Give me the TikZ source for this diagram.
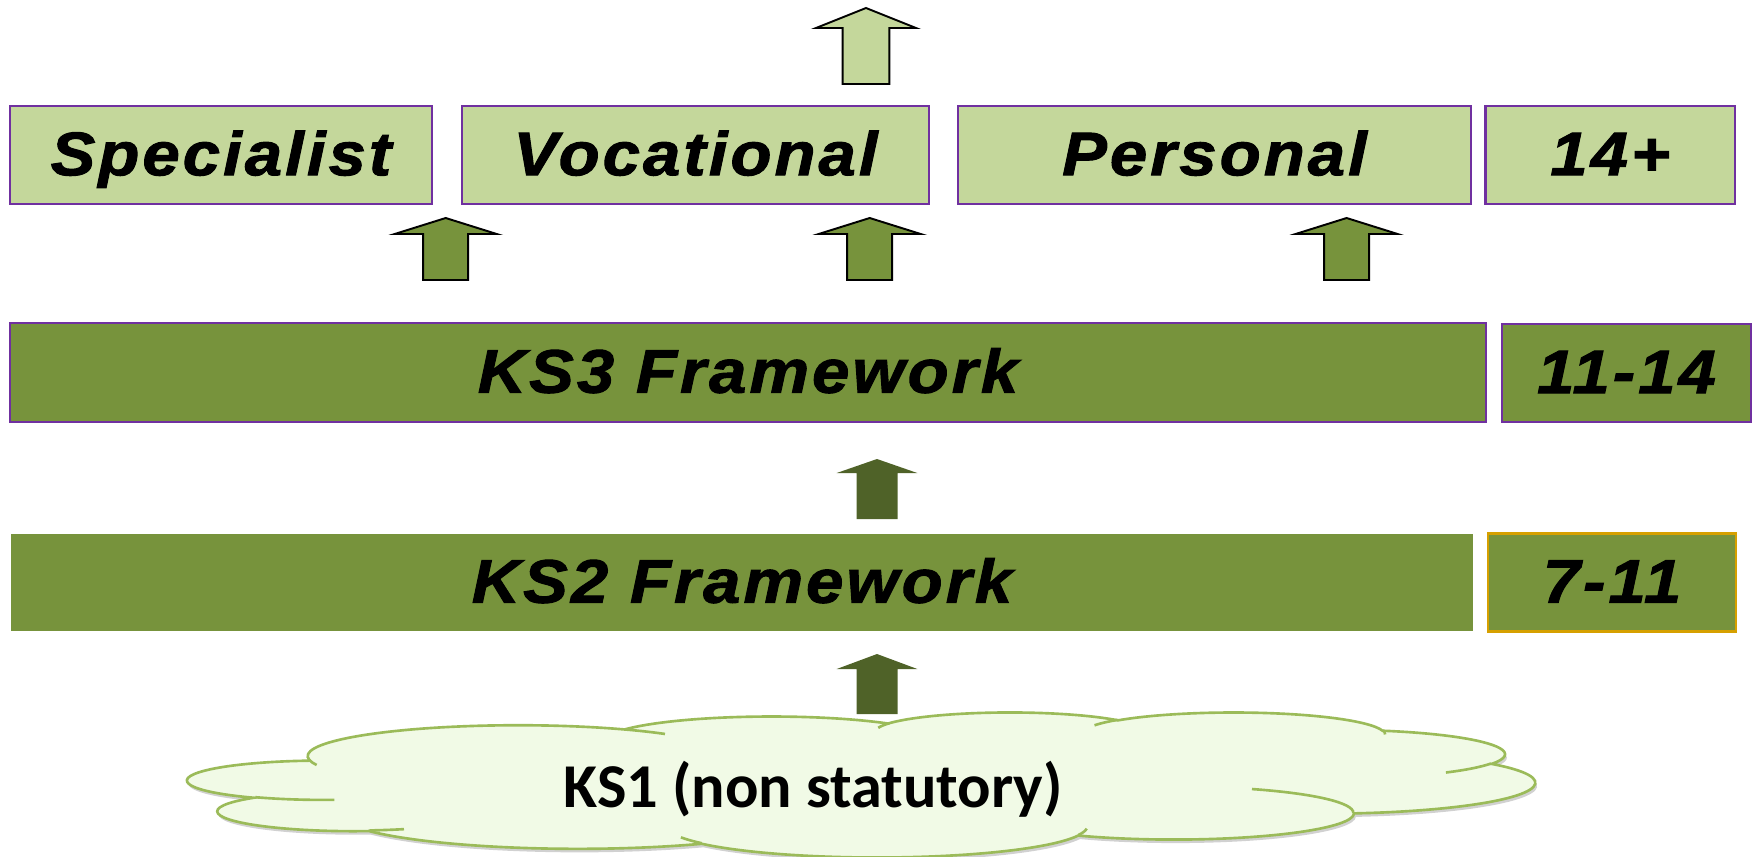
\documentclass[tikz,border=0pt]{standalone}
\usepackage{fontspec}
\newfontfamily\stagefont[LetterSpace=5, FakeStretch=1.09, FakeBold=1.6]{Liberation Sans}
\newfontfamily\cloudfont{Carlito}
\usetikzlibrary{shadows}
\definecolor{palegreen}{RGB}{196,215,155}
\definecolor{olivegreen}{RGB}{119,147,60}
\definecolor{darkolive}{RGB}{79,98,40}
\definecolor{boxpurple}{RGB}{112,48,160}
\definecolor{boxgold}{RGB}{214,160,0}
\definecolor{cloudfill}{RGB}{241,250,230}
\definecolor{cloudline}{RGB}{155,187,89}

\newlength\unitpx
\setlength\unitpx{0.02cm}

% up arrow: [style]{x}{tip}{neck}{foot}{head half}{shaft half}
\newcommand{\blockarrow}[7][]{%
  \path[#1] (#2-#6,#4) -- (#2,#3) -- (#2+#6,#4) -- (#2+#7,#4)
    -- (#2+#7,#5) -- (#2-#7,#5) -- (#2-#7,#4) -- cycle;}

% one cloud lobe: {x radius}{y radius}{start}{sweep}
\newcommand{\lobe}[4]{arc[x radius=#1, y radius=#2,
  start angle={atan2(#1*sin(#3),#2*cos(#3))},
  delta angle={mod(atan2(#1*sin(#3+#4),#2*cos(#3+#4))-atan2(#1*sin(#3),#2*cos(#3))+720,360)}]}

\begin{document}
\begin{tikzpicture}[
  x=0.02cm, y=-0.02cm,
  box size/.style 2 args={minimum width=#1*\unitpx, minimum height=#2*\unitpx},
  stage/.style={draw=boxpurple, line width=1.4pt, fill=palegreen, inner sep=0pt,
    text height=25pt, text depth=2pt,
    font=\stagefont\fontsize{35}{40}\selectfont\bfseries\itshape},
  frame/.style={stage, fill=olivegreen},
  lightarrow/.style={draw=black, line width=1.1pt, fill=palegreen},
  midarrow/.style={draw=black, line width=1.1pt, fill=olivegreen},
  darkarrow/.style={fill=darkolive},
  cloudshape/.style={fill=cloudfill, draw=cloudline, line width=1.5pt,
    drop shadow={shadow xshift=1pt, shadow yshift=-2pt, opacity=0.3, fill=black!60}},
  cloudcrease/.style={draw=cloudline, line width=1.5pt},
  ks1 label/.style={anchor=base, font=\cloudfont\bfseries\fontsize{35.5}{40}\selectfont}
]
\useasboundingbox (0,0) rectangle (1752,856);

% 14+ row
\node[stage, box size={422}{98}] (specialist) at (221,155) {Specialist};
\node[stage, box size={467}{98}] (vocational) at (695.5,155) {Vocational};
\node[stage, box size={513}{98}] (personal) at (1214.5,155) {Personal};
\node[stage, box size={249.5}{98}] (age14) at (1610.3,155) {14+};

% frameworks
\node[frame, box size={1476}{99}] (ks3) at (748,372.5) {KS3 Framework};
\node[frame, box size={249}{98}] (age11) at (1626.5,373) {11-14};
\node[frame, draw=none, box size={1462}{97}] (ks2) at (742,582.5) {KS2 Framework};
\node[frame, draw=boxgold, line width=1.5pt, box size={248}{98}] (age7) at (1612,582.5) {7-11};

% arrows
\blockarrow[lightarrow]{866}{8}{28}{84}{50}{23.3}
\blockarrow[midarrow]{445.7}{218}{234}{280}{51}{22.5}
\blockarrow[midarrow]{869.7}{218}{234}{280}{51}{22.5}
\blockarrow[midarrow]{1346.6}{218}{234}{280}{51}{22.5}
\blockarrow[darkarrow]{877}{459}{473}{519}{40.3}{20.5}
\blockarrow[darkarrow]{877}{654}{669}{714}{40.3}{20.5}

% KS1 cloud
\coordinate (cloudorigin) at (188,712);
\begin{scope}[shift={(cloudorigin)}, x=0.06236cm, y=-0.006713cm]
\path[cloudshape] (39.00,143.70)
  \lobe{67.53}{91.90}{-190.4875}{123.7805}
  \lobe{53.33}{72.67}{-144.1024}{89.9452}
  \lobe{43.65}{59.45}{-145.8079}{99.7230}
  \lobe{48.57}{65.95}{-130.9861}{117.2417}
  \lobe{53.33}{72.73}{-78.7089}{109.0269}
  \lobe{67.75}{92.20}{-46.2673}{130.2690}
  \lobe{57.85}{78.67}{0.6250}{114.0333}
  \lobe{67.52}{92.15}{22.4516}{115.1726}
  \lobe{77.20}{105.43}{66.2426}{75.7110}
  \lobe{43.60}{59.18}{-274.9421}{146.7356}
  \lobe{43.45}{59.45}{-246.8285}{152.5189}
  -- cycle;
\path[cloudcrease]
  (46.93,261.77) \lobe{43.45}{59.45}{86.7420}{26.4295}
  (69.28,348.99) \lobe{43.60}{59.18}{73.6105}{11.4475}
  (164.78,390.90) \lobe{67.52}{92.15}{137.6242}{14.0811}
  (288.27,347.51) \lobe{67.52}{92.15}{6.4533}{15.9984}
  (341.29,229.54) \lobe{57.85}{78.67}{-70.2924}{70.9174}
  (417.98,153.54) \lobe{53.33}{72.73}{30.3180}{27.7515}
  (383.24,54.26) \lobe{48.57}{65.95}{-13.7443}{14.8589}
  (290.78,39.52) \lobe{48.57}{65.95}{-149.1815}{18.1954}
  (221.41,47.20) \lobe{43.65}{59.45}{-163.4943}{17.6864}
  (140.00,51.92) \lobe{67.53}{91.90}{-66.7070}{12.3194}
  (41.27,157.89) \lobe{67.53}{91.90}{157.6544}{11.8582};
\end{scope}
\node[ks1 label] (ks1) at (813,807) {KS1 (non statutory)};
\end{tikzpicture}
\end{document}
